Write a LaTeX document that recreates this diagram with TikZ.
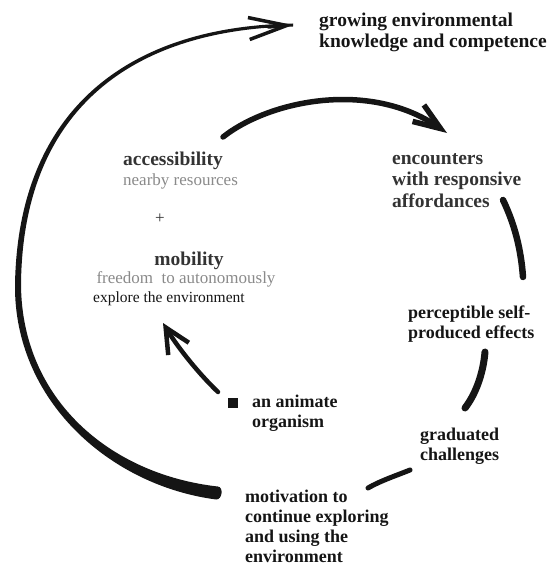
\documentclass[tikz,border=0pt]{standalone}
\usepackage{fontspec}
\setmainfont{Liberation Serif}
\usepackage{xcolor}
\usepackage{tikz}
\usetikzlibrary{positioning,arrows.meta}
\definecolor{ink}{HTML}{151515}
\definecolor{dim}{HTML}{333333}
\definecolor{faded}{HTML}{8A8A8A}

\begin{document}
\begin{tikzpicture}[
  x=1pt, y=-1pt,
  cue/.style={font=\fontsize{19.5}{21.5}\selectfont\bfseries, align=left,
              inner sep=0pt, anchor=base west, text=dim},
  stage/.style={font=\fontsize{18}{20}\selectfont\bfseries, align=left,
                inner sep=0pt, anchor=base west, text=ink},
  hint/.style={font=\fontsize{17}{19}\selectfont, text=faded, inner sep=0pt},
  brush/.style={draw=ink, line cap=round, line width=#1},
  barb/.style 2 args={-{Straight Barb[length=#1, width=#2]}}
]
\useasboundingbox (0,0) rectangle (551,567);

% labels round the cycle (base = last line)
\node[cue, text=ink] (grow) at (319,48) {growing environmental\\knowledge and competence};
\node[cue] (enc) at (392,207) {encounters\\with responsive\\affordances};
\node[stage] (perc) at (408,338) {perceptible self-\\produced effects};
\node[stage] (grad) at (420,460) {graduated\\challenges};
\node[stage] (motiv) at (245,562) {motivation to\\continue exploring\\and using the\\environment};
\node[stage] (org) at (252,427) {an animate\\organism};
\node[fill=ink, minimum size=10pt, inner sep=0pt] (org-dot) at (233,403) {};

% starting conditions
\node[cue] (access) at (123,165) {accessibility};
\node[hint, anchor=base west] (access-note) at (123,185) {nearby resources};
\node[hint, text=dim] (plus) at (160,219) {+};
\node[cue, anchor=base] (mob) at (189,265) {mobility};
\node[hint, anchor=base] (mob-note) at (186,283) {freedom~ to autonomously};
\node[anchor=base west, inner sep=0pt, font=\fontsize{15.5}{18}\selectfont, text=ink]
   (explore) at (93,302) {explore the environment};

% ends of the strokes
\coordinate (loop-from) at (268,27);
\coordinate (loop-tip) at (293,25);
\coordinate (enc-from) at (223,137);
\coordinate (enc-tip) at (447,133);
\coordinate (org-from) at (218,392);
\coordinate (mob-tip) at (163,323);

% big tapering loop back to the top
\fill[ink] (293,23.5) .. controls (129.4,26.1) and (17.7,109) .. (15,285)
  .. controls (14,400) and (109.3,485.5) .. (216.2,499.5)
  .. controls (222,500) and (224,487) .. (217.8,486.5)
  .. controls (110.7,474.5) and (22,400) .. (21,285)
  .. controls (22.3,111) and (130.6,29.9) .. (293,26.5) -- cycle;
\draw[brush=3.5pt, barb={38pt}{22pt}] (loop-from) -- (loop-tip);

% arrows
\draw[brush=5.5pt, barb={27pt}{20pt}] (enc-from) .. controls (270,100) and (370,80) .. (enc-tip);
\draw[brush=4.5pt, barb={25pt}{24pt}] (org-from) .. controls (195,370) and (175,343) .. (mob-tip);

% brush strokes between the stages
\draw[brush=6.5pt] (503,200) .. controls (515,225) and (521,250) .. (523,277);
\draw[brush=7pt] (485,352) .. controls (483,375) and (475,395) .. (465,408);
\draw[brush=5pt] (410,470) .. controls (395,476) and (380,481) .. (368,488);
\end{tikzpicture}
\end{document}
